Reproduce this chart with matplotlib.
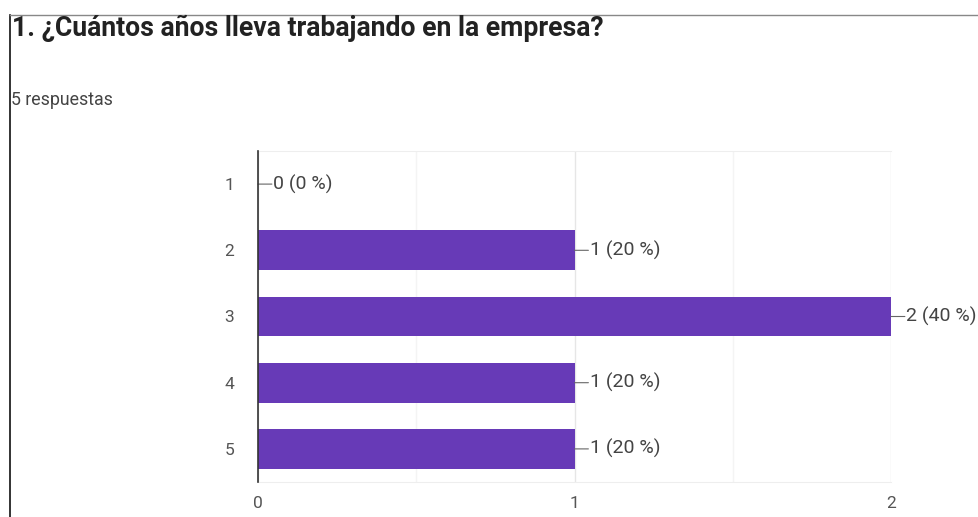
import matplotlib
matplotlib.use("Agg")
import matplotlib.pyplot as plt
from matplotlib.lines import Line2D

categories = ["1", "2", "3", "4", "5"]
counts = [0, 1, 2, 1, 1]
percents = [0, 20, 40, 20, 20]
xticks = [0, 1, 2]

plt.rcParams['font.family'] = ['Roboto', 'DejaVu Sans']

fig = plt.figure(figsize=(9.79, 5.17), dpi=100)
W, H = 979, 517
ax = fig.add_axes([258 / W, 1 - 482 / H, (891 - 258) / W, (482 - 151) / H])

ypos = list(range(len(categories)))
ax.barh(ypos, counts, height=0.6, color="#673AB7", zorder=3)
ax.set_ylim(len(categories) - 0.5, -0.5)
ax.set_xlim(0, 2)
ax.set_yticks(ypos)
ax.set_yticklabels(categories)
ax.set_xticks(xticks)
ax.set_xticklabels([str(t) for t in xticks])
ax.set_xticks([0.5, 1.5], minor=True)
ax.tick_params(axis='both', which='both', length=0, labelsize=12.5, colors="#555555")
ax.tick_params(axis='y', pad=17)
ax.tick_params(axis='x', pad=10)
ax.grid(axis='x', which='major', color="#e6e6e6", lw=1, zorder=0)
ax.grid(axis='x', which='minor', color="#f4f4f4", lw=1, zorder=0)
for s in ['top', 'bottom']:
    ax.spines[s].set_color("#eeeeee")
ax.spines['right'].set_visible(False)
ax.spines['left'].set_color("#333333")
ax.spines['left'].set_linewidth(1.2)
ax.spines['left'].set_zorder(4)

for y, c, p in zip(ypos, counts, percents):
    ax.annotate("", xy=(c, y), xytext=(10, 0), textcoords='offset points',
                arrowprops=dict(arrowstyle='-', color="#666666", lw=0.8,
                                shrinkA=0, shrinkB=0), annotation_clip=False)
    ax.annotate(f"{c} ({p} %)", xy=(c, y), xytext=(11, 0), textcoords='offset points',
                va='center', ha='left', fontsize=14, color="#444444",
                annotation_clip=False)

fig.text(12 / W, 1 - 28 / H, "1. ¿Cuántos años lleva trabajando en la empresa?",
         fontsize=19.2, fontweight='bold', color="#222222", va='center', ha='left')
fig.text(11 / W, 1 - 100 / H, "5 respuestas", fontsize=12.8, color="#444444",
         va='center', ha='left')

fig.add_artist(Line2D([10 / W, 10 / W], [1 - 15 / H, 0], color="#111111", lw=1.2,
                      transform=fig.transFigure))
fig.add_artist(Line2D([10 / W, 1], [1 - 15 / H, 1 - 15 / H], color="#888888", lw=1,
                      transform=fig.transFigure))

fig.savefig("out.png", dpi=100)
